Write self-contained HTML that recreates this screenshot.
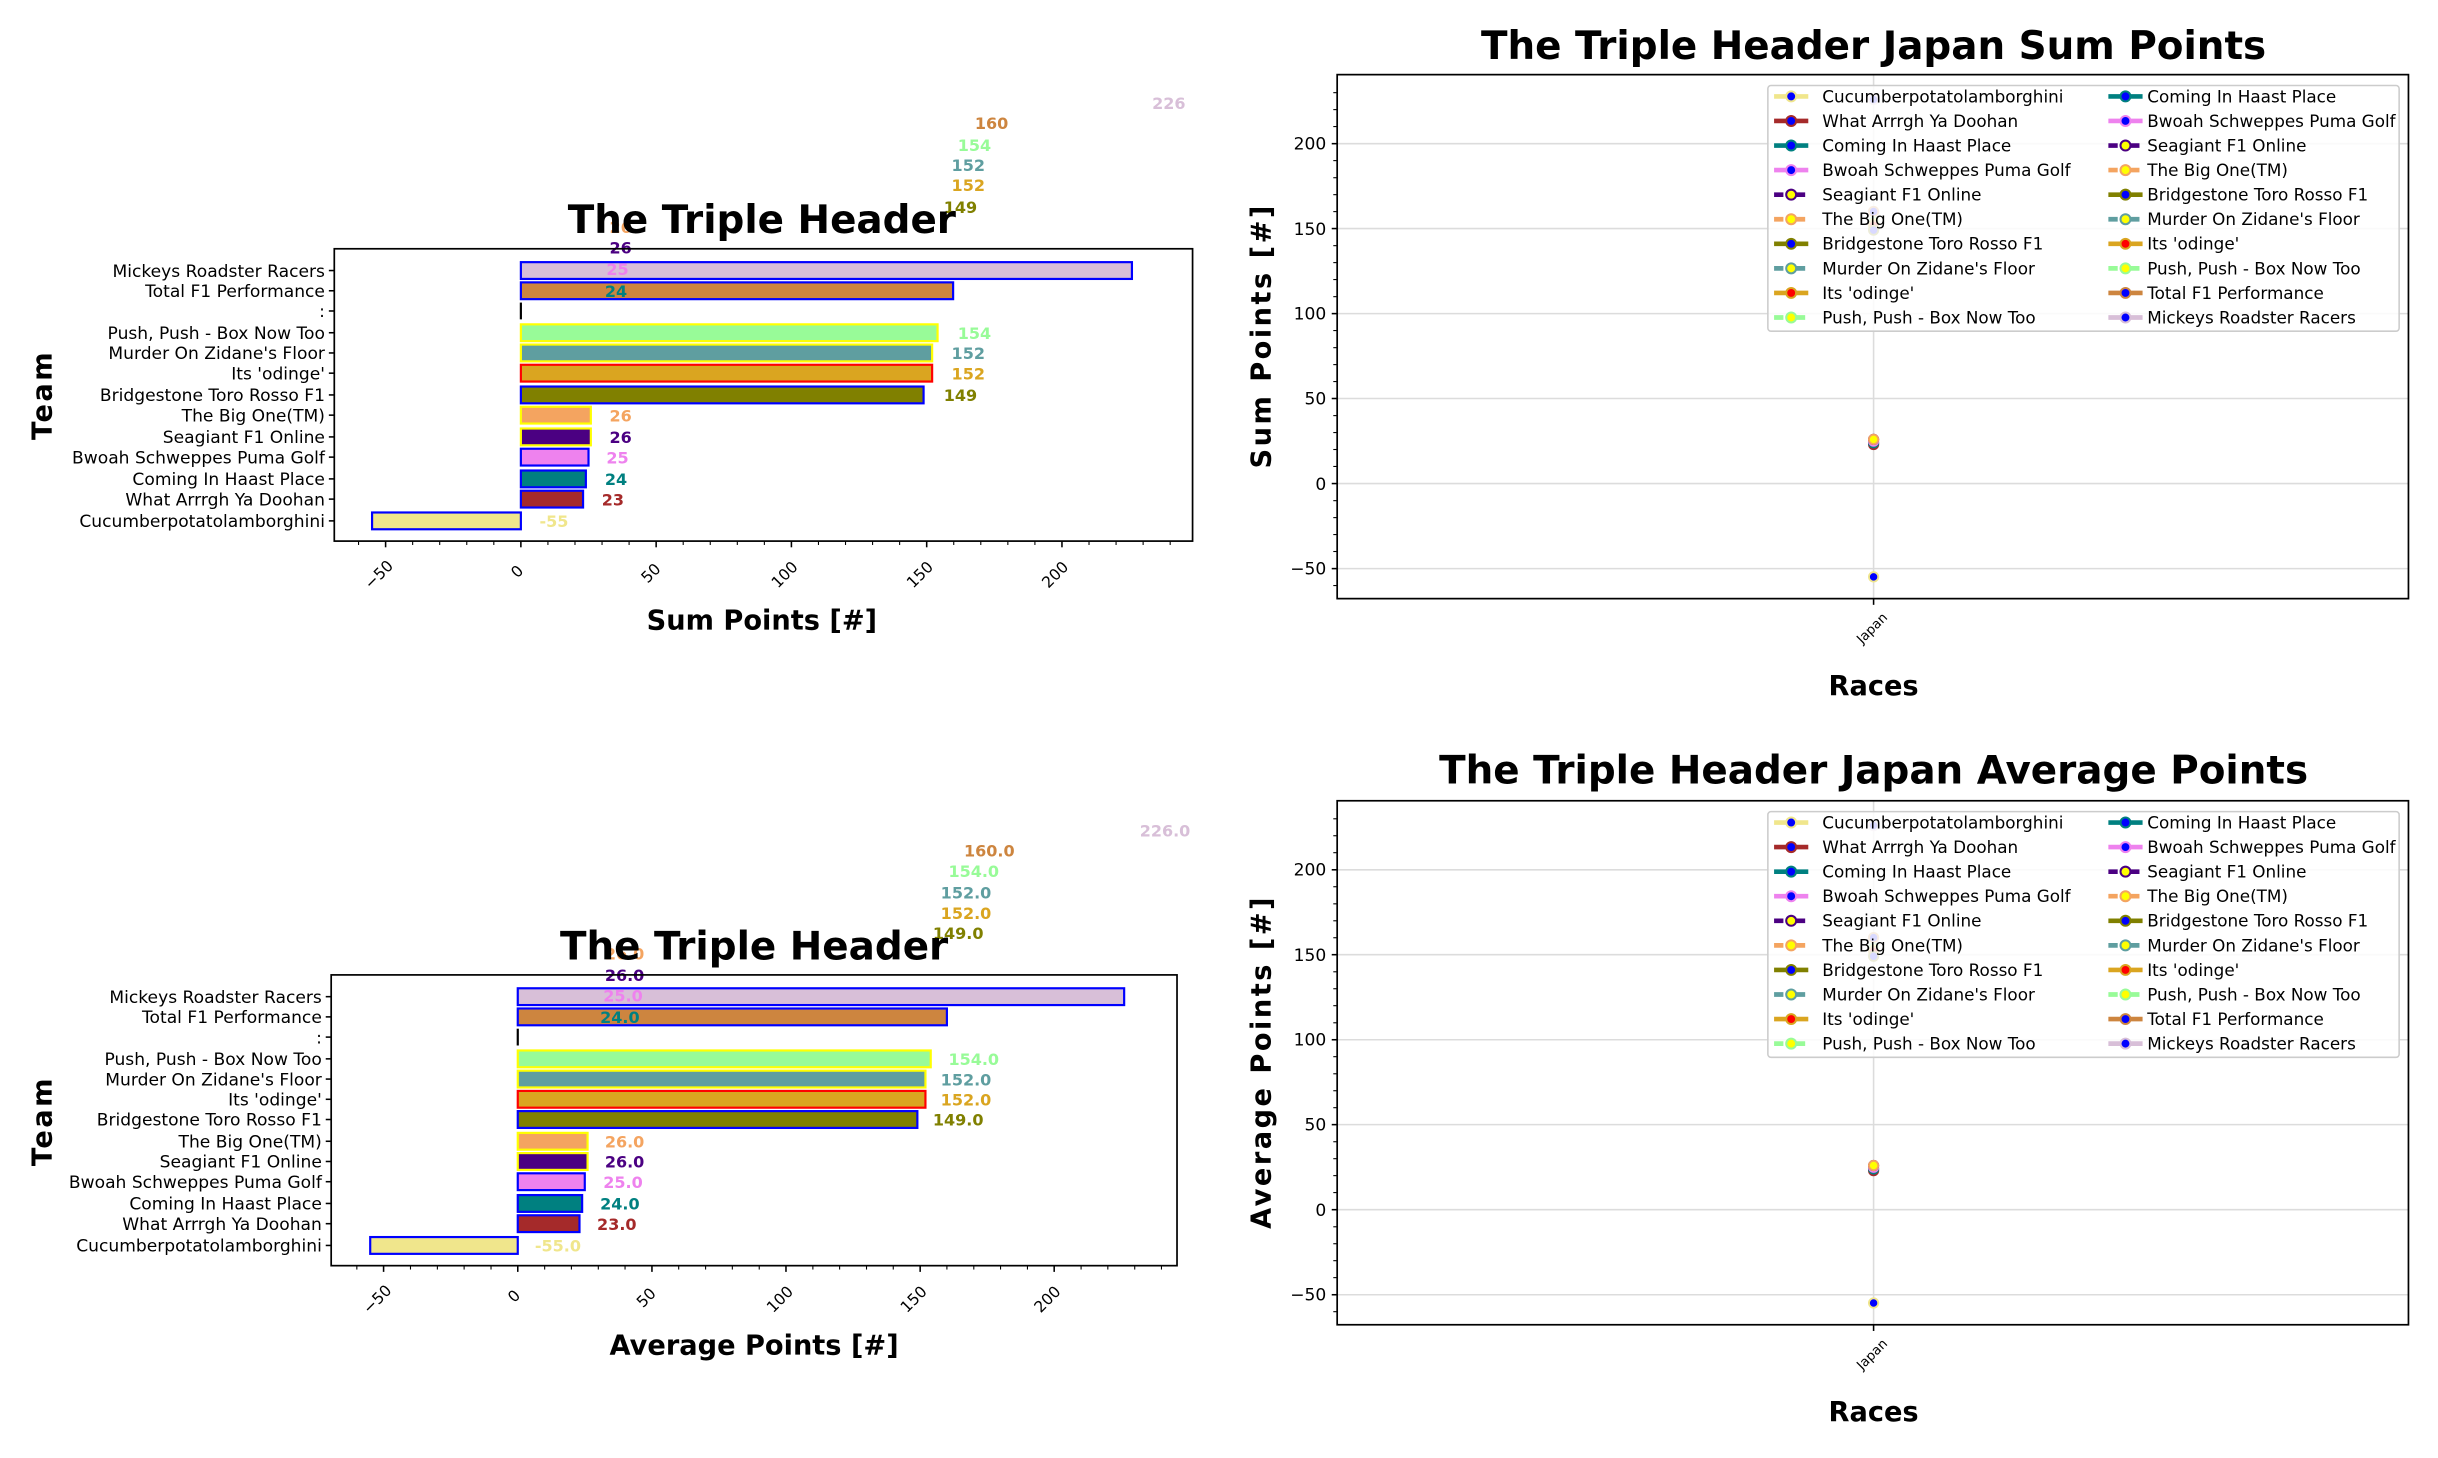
<!DOCTYPE html>
<html><head><meta charset="utf-8"><style>
html,body{margin:0;padding:0;background:#fff}
svg{display:block}
text{font-family:"DejaVu Sans","Liberation Sans",sans-serif}
.t{font-size:11px;fill:#000}
.v{font-size:10.3px;font-weight:bold}
.ti{font-size:25px;font-weight:bold;text-anchor:middle}
.al{font-size:17.5px;font-weight:bold;text-anchor:middle}
.yl{font-size:17.5px;font-weight:bold;text-anchor:middle;letter-spacing:1.6px}
.lg{font-size:10.8px}
.xt{font-size:10px;text-anchor:middle}
</style></head><body>
<svg width="2438" height="1458" viewBox="0 0 1568 937.7" preserveAspectRatio="none" xmlns="http://www.w3.org/2000/svg">
<rect width="1568" height="938" fill="#fff"/>

<!-- ================= TOP LEFT ================= -->
<g>
<text class="v" x="741" y="70" fill="#d8bfd8">226</text>
<text class="v" x="627" y="83" fill="#cd853f">160</text>
<text class="v" x="616" y="97" fill="#98fb98">154</text>
<text class="v" x="612" y="110" fill="#5f9ea0">152</text>
<text class="v" x="612" y="123" fill="#daa520">152</text>
<text class="v" x="607" y="137" fill="#808000">149</text>
<text class="v" x="392" y="150" fill="#f4a460">26</text>
<text class="v" x="392" y="163" fill="#4b0082">26</text>
<text class="ti" x="490" y="150">The Triple Header</text>
<g stroke-width="1.4">
<rect x="335" y="168.6" width="393" height="10.8" fill="#d8bfd8" stroke="#0000ff"/>
<rect x="335" y="181.6" width="278" height="10.8" fill="#cd853f" stroke="#0000ff"/>
<line x1="335" y1="194.6" x2="335" y2="205.4" stroke="#000"/>
<rect x="335" y="208.6" width="268" height="10.8" fill="#98fb98" stroke="#ffff00"/>
<rect x="335" y="221.6" width="264.5" height="10.8" fill="#5f9ea0" stroke="#ffff00"/>
<rect x="335" y="234.6" width="264.5" height="10.8" fill="#daa520" stroke="#ff0000"/>
<rect x="335" y="248.6" width="259" height="10.8" fill="#808000" stroke="#0000ff"/>
<rect x="335" y="261.6" width="45" height="10.8" fill="#f4a460" stroke="#ffff00"/>
<rect x="335" y="275.6" width="45" height="10.8" fill="#4b0082" stroke="#ffff00"/>
<rect x="335" y="288.6" width="43.5" height="10.8" fill="#ee82ee" stroke="#0000ff"/>
<rect x="335" y="302.6" width="41.8" height="10.8" fill="#008080" stroke="#0000ff"/>
<rect x="335" y="315.6" width="40" height="10.8" fill="#a52a2a" stroke="#0000ff"/>
<rect x="239.3" y="329.6" width="95.7" height="10.8" fill="#f0e68c" stroke="#0000ff"/>
</g>
<text class="v" x="390" y="177" fill="#ee82ee">25</text>
<text class="v" x="389" y="191" fill="#008080">24</text>
<text class="v" x="616" y="218" fill="#98fb98">154</text>
<text class="v" x="612" y="231" fill="#5f9ea0">152</text>
<text class="v" x="612" y="244" fill="#daa520">152</text>
<text class="v" x="607" y="258" fill="#808000">149</text>
<text class="v" x="392" y="271" fill="#f4a460">26</text>
<text class="v" x="392" y="285" fill="#4b0082">26</text>
<text class="v" x="390" y="298" fill="#ee82ee">25</text>
<text class="v" x="389" y="312" fill="#008080">24</text>
<text class="v" x="387" y="325" fill="#a52a2a">23</text>
<text class="v" x="347" y="339" fill="#f0e68c">-55</text>
<rect x="215" y="160" width="552" height="188" fill="none" stroke="#000" stroke-width="1.1"/>
<g stroke="#000" stroke-width="1">
<line x1="211.5" y1="174" x2="215" y2="174"/><line x1="211.5" y1="187" x2="215" y2="187"/><line x1="211.5" y1="200" x2="215" y2="200"/><line x1="211.5" y1="214" x2="215" y2="214"/><line x1="211.5" y1="227" x2="215" y2="227"/><line x1="211.5" y1="240" x2="215" y2="240"/><line x1="211.5" y1="254" x2="215" y2="254"/><line x1="211.5" y1="267" x2="215" y2="267"/><line x1="211.5" y1="281" x2="215" y2="281"/><line x1="211.5" y1="294" x2="215" y2="294"/><line x1="211.5" y1="308" x2="215" y2="308"/><line x1="211.5" y1="321" x2="215" y2="321"/><line x1="211.5" y1="335" x2="215" y2="335"/>
<line x1="248" y1="348" x2="248" y2="352"/><line x1="335" y1="348" x2="335" y2="352"/><line x1="422" y1="348" x2="422" y2="352"/><line x1="509" y1="348" x2="509" y2="352"/><line x1="596" y1="348" x2="596" y2="352"/><line x1="683" y1="348" x2="683" y2="352"/>
</g>
<g stroke="#000" stroke-width="0.7">
<line x1="230.6" y1="348" x2="230.6" y2="350.5"/><line x1="265.4" y1="348" x2="265.4" y2="350.5"/><line x1="282.8" y1="348" x2="282.8" y2="350.5"/><line x1="300.2" y1="348" x2="300.2" y2="350.5"/><line x1="317.6" y1="348" x2="317.6" y2="350.5"/><line x1="352.4" y1="348" x2="352.4" y2="350.5"/><line x1="369.8" y1="348" x2="369.8" y2="350.5"/><line x1="387.2" y1="348" x2="387.2" y2="350.5"/><line x1="404.6" y1="348" x2="404.6" y2="350.5"/><line x1="439.4" y1="348" x2="439.4" y2="350.5"/><line x1="456.8" y1="348" x2="456.8" y2="350.5"/><line x1="474.2" y1="348" x2="474.2" y2="350.5"/><line x1="491.6" y1="348" x2="491.6" y2="350.5"/><line x1="526.4" y1="348" x2="526.4" y2="350.5"/><line x1="543.8" y1="348" x2="543.8" y2="350.5"/><line x1="561.2" y1="348" x2="561.2" y2="350.5"/><line x1="578.6" y1="348" x2="578.6" y2="350.5"/><line x1="613.4" y1="348" x2="613.4" y2="350.5"/><line x1="630.8" y1="348" x2="630.8" y2="350.5"/><line x1="648.2" y1="348" x2="648.2" y2="350.5"/><line x1="665.6" y1="348" x2="665.6" y2="350.5"/><line x1="700.4" y1="348" x2="700.4" y2="350.5"/><line x1="717.8" y1="348" x2="717.8" y2="350.5"/><line x1="735.2" y1="348" x2="735.2" y2="350.5"/><line x1="752.6" y1="348" x2="752.6" y2="350.5"/>
</g>
<g text-anchor="end">
<text class="t" x="209" y="178">Mickeys Roadster Racers</text>
<text class="t" x="209" y="191">Total F1 Performance</text>
<text class="t" x="209" y="204">:</text>
<text class="t" x="209" y="218">Push, Push - Box Now Too</text>
<text class="t" x="209" y="231">Murder On Zidane's Floor</text>
<text class="t" x="209" y="244">Its 'odinge'</text>
<text class="t" x="209" y="258">Bridgestone Toro Rosso F1</text>
<text class="t" x="209" y="271">The Big One(TM)</text>
<text class="t" x="209" y="285">Seagiant F1 Online</text>
<text class="t" x="209" y="298">Bwoah Schweppes Puma Golf</text>
<text class="t" x="209" y="312">Coming In Haast Place</text>
<text class="t" x="209" y="325">What Arrrgh Ya Doohan</text>
<text class="t" x="209" y="339">Cucumberpotatolamborghini</text>
</g>
<text class="xt" transform="translate(246,372) rotate(-45)">−50</text>
<text class="xt" transform="translate(335,370) rotate(-45)">0</text>
<text class="xt" transform="translate(421,371) rotate(-45)">50</text>
<text class="xt" transform="translate(507,372) rotate(-45)">100</text>
<text class="xt" transform="translate(594,372) rotate(-45)">150</text>
<text class="xt" transform="translate(681,372) rotate(-45)">200</text>
<text class="al" x="490" y="405">Sum Points [#]</text>
<text class="yl" transform="translate(33,254) rotate(-90)">Team</text>
</g>

<!-- ================= BOTTOM LEFT ================= -->
<g>
<text class="v" x="733" y="538" fill="#d8bfd8">226.0</text>
<text class="v" x="620" y="551" fill="#cd853f">160.0</text>
<text class="v" x="610" y="564" fill="#98fb98">154.0</text>
<text class="v" x="605" y="578" fill="#5f9ea0">152.0</text>
<text class="v" x="605" y="591" fill="#daa520">152.0</text>
<text class="v" x="600" y="604" fill="#808000">149.0</text>
<text class="v" x="389" y="617" fill="#f4a460">26.0</text>
<text class="v" x="389" y="631" fill="#4b0082">26.0</text>
<text class="ti" x="485" y="617">The Triple Header</text>
<g stroke-width="1.4">
<rect x="333" y="635.6" width="390" height="10.8" fill="#d8bfd8" stroke="#0000ff"/>
<rect x="333" y="648.6" width="276" height="10.8" fill="#cd853f" stroke="#0000ff"/>
<line x1="333" y1="661.6" x2="333" y2="672.4" stroke="#000"/>
<rect x="333" y="675.6" width="265.6" height="10.8" fill="#98fb98" stroke="#ffff00"/>
<rect x="333" y="688.6" width="262.2" height="10.8" fill="#5f9ea0" stroke="#ffff00"/>
<rect x="333" y="701.6" width="262.2" height="10.8" fill="#daa520" stroke="#ff0000"/>
<rect x="333" y="714.6" width="257" height="10.8" fill="#808000" stroke="#0000ff"/>
<rect x="333" y="728.6" width="44.9" height="10.8" fill="#f4a460" stroke="#ffff00"/>
<rect x="333" y="741.6" width="44.9" height="10.8" fill="#4b0082" stroke="#ffff00"/>
<rect x="333" y="754.6" width="43.1" height="10.8" fill="#ee82ee" stroke="#0000ff"/>
<rect x="333" y="768.6" width="41.4" height="10.8" fill="#008080" stroke="#0000ff"/>
<rect x="333" y="781.6" width="39.7" height="10.8" fill="#a52a2a" stroke="#0000ff"/>
<rect x="238.1" y="795.6" width="94.9" height="10.8" fill="#f0e68c" stroke="#0000ff"/>
</g>
<text class="v" x="388" y="644" fill="#ee82ee">25.0</text>
<text class="v" x="386" y="658" fill="#008080">24.0</text>
<text class="v" x="610" y="685" fill="#98fb98">154.0</text>
<text class="v" x="605" y="698" fill="#5f9ea0">152.0</text>
<text class="v" x="605" y="711" fill="#daa520">152.0</text>
<text class="v" x="600" y="724" fill="#808000">149.0</text>
<text class="v" x="389" y="738" fill="#f4a460">26.0</text>
<text class="v" x="389" y="751" fill="#4b0082">26.0</text>
<text class="v" x="388" y="764" fill="#ee82ee">25.0</text>
<text class="v" x="386" y="778" fill="#008080">24.0</text>
<text class="v" x="384" y="791" fill="#a52a2a">23.0</text>
<text class="v" x="344" y="805" fill="#f0e68c">-55.0</text>
<rect x="213" y="627" width="544" height="187" fill="none" stroke="#000" stroke-width="1.1"/>
<g stroke="#000" stroke-width="1">
<line x1="209.5" y1="641" x2="213" y2="641"/><line x1="209.5" y1="654" x2="213" y2="654"/><line x1="209.5" y1="667" x2="213" y2="667"/><line x1="209.5" y1="681" x2="213" y2="681"/><line x1="209.5" y1="694" x2="213" y2="694"/><line x1="209.5" y1="707" x2="213" y2="707"/><line x1="209.5" y1="720" x2="213" y2="720"/><line x1="209.5" y1="734" x2="213" y2="734"/><line x1="209.5" y1="747" x2="213" y2="747"/><line x1="209.5" y1="760" x2="213" y2="760"/><line x1="209.5" y1="774" x2="213" y2="774"/><line x1="209.5" y1="787" x2="213" y2="787"/><line x1="209.5" y1="801" x2="213" y2="801"/>
<line x1="246.7" y1="814" x2="246.7" y2="818"/><line x1="333" y1="814" x2="333" y2="818"/><line x1="419.3" y1="814" x2="419.3" y2="818"/><line x1="505.5" y1="814" x2="505.5" y2="818"/><line x1="591.8" y1="814" x2="591.8" y2="818"/><line x1="678" y1="814" x2="678" y2="818"/>
</g>
<g stroke="#000" stroke-width="0.7">
<line x1="229.5" y1="814" x2="229.5" y2="816.5"/><line x1="264" y1="814" x2="264" y2="816.5"/><line x1="281.3" y1="814" x2="281.3" y2="816.5"/><line x1="298.5" y1="814" x2="298.5" y2="816.5"/><line x1="315.8" y1="814" x2="315.8" y2="816.5"/><line x1="350.3" y1="814" x2="350.3" y2="816.5"/><line x1="367.5" y1="814" x2="367.5" y2="816.5"/><line x1="384.8" y1="814" x2="384.8" y2="816.5"/><line x1="402" y1="814" x2="402" y2="816.5"/><line x1="436.5" y1="814" x2="436.5" y2="816.5"/><line x1="453.8" y1="814" x2="453.8" y2="816.5"/><line x1="471" y1="814" x2="471" y2="816.5"/><line x1="488.3" y1="814" x2="488.3" y2="816.5"/><line x1="522.8" y1="814" x2="522.8" y2="816.5"/><line x1="540" y1="814" x2="540" y2="816.5"/><line x1="557.3" y1="814" x2="557.3" y2="816.5"/><line x1="574.5" y1="814" x2="574.5" y2="816.5"/><line x1="609" y1="814" x2="609" y2="816.5"/><line x1="626.3" y1="814" x2="626.3" y2="816.5"/><line x1="643.5" y1="814" x2="643.5" y2="816.5"/><line x1="660.8" y1="814" x2="660.8" y2="816.5"/><line x1="695.3" y1="814" x2="695.3" y2="816.5"/><line x1="712.5" y1="814" x2="712.5" y2="816.5"/><line x1="729.8" y1="814" x2="729.8" y2="816.5"/><line x1="747" y1="814" x2="747" y2="816.5"/>
</g>
<g text-anchor="end">
<text class="t" x="207" y="645">Mickeys Roadster Racers</text>
<text class="t" x="207" y="658">Total F1 Performance</text>
<text class="t" x="207" y="671">:</text>
<text class="t" x="207" y="685">Push, Push - Box Now Too</text>
<text class="t" x="207" y="698">Murder On Zidane's Floor</text>
<text class="t" x="207" y="711">Its 'odinge'</text>
<text class="t" x="207" y="724">Bridgestone Toro Rosso F1</text>
<text class="t" x="207" y="738">The Big One(TM)</text>
<text class="t" x="207" y="751">Seagiant F1 Online</text>
<text class="t" x="207" y="764">Bwoah Schweppes Puma Golf</text>
<text class="t" x="207" y="778">Coming In Haast Place</text>
<text class="t" x="207" y="791">What Arrrgh Ya Doohan</text>
<text class="t" x="207" y="805">Cucumberpotatolamborghini</text>
</g>
<text class="xt" transform="translate(245,838) rotate(-45)">−50</text>
<text class="xt" transform="translate(333,836) rotate(-45)">0</text>
<text class="xt" transform="translate(418,837) rotate(-45)">50</text>
<text class="xt" transform="translate(504,838) rotate(-45)">100</text>
<text class="xt" transform="translate(590,838) rotate(-45)">150</text>
<text class="xt" transform="translate(676,838) rotate(-45)">200</text>
<text class="al" x="485" y="871">Average Points [#]</text>
<text class="yl" transform="translate(33,721) rotate(-90)">Team</text>
</g>

<!-- ================= TOP RIGHT ================= -->
<g>
<text class="ti" x="1205" y="38">The Triple Header Japan Sum Points</text>
<g stroke="#dcdcdc" stroke-width="1">
<line x1="860" y1="92.4" x2="1549" y2="92.4"/><line x1="860" y1="147" x2="1549" y2="147"/><line x1="860" y1="201.7" x2="1549" y2="201.7"/><line x1="860" y1="256.3" x2="1549" y2="256.3"/><line x1="860" y1="311" x2="1549" y2="311"/><line x1="860" y1="365.7" x2="1549" y2="365.7"/><line x1="1205" y1="48" x2="1205" y2="385"/>
</g>
<g stroke-width="1.2">
<circle cx="1205" cy="64" r="3" fill="#0000ff" stroke="#d8bfd8"/>
<circle cx="1205" cy="136" r="3" fill="#0000ff" stroke="#cd853f"/>
<circle cx="1205" cy="142.7" r="3" fill="#ffff00" stroke="#98fb98"/>
<circle cx="1205" cy="144.9" r="3" fill="#ffff00" stroke="#5f9ea0"/>
<circle cx="1205" cy="144.9" r="3" fill="#ff0000" stroke="#daa520"/>
<circle cx="1205" cy="148" r="3" fill="#0000ff" stroke="#808000"/>
<circle cx="1205" cy="285.9" r="3" fill="#0000ff" stroke="#a52a2a"/>
<circle cx="1205" cy="284.8" r="3" fill="#0000ff" stroke="#008080"/>
<circle cx="1205" cy="283.7" r="3" fill="#0000ff" stroke="#ee82ee"/>
<circle cx="1205" cy="282.6" r="3" fill="#ffff00" stroke="#4b0082"/>
<circle cx="1205" cy="282.6" r="3" fill="#ffff00" stroke="#f4a460"/>
<circle cx="1205" cy="371" r="3" fill="#0000ff" stroke="#f0e68c"/>
</g>
<rect x="860" y="48" width="689" height="337" fill="none" stroke="#000" stroke-width="1.1"/>
<g stroke="#000" stroke-width="1">
<line x1="856.5" y1="92.4" x2="860" y2="92.4"/><line x1="856.5" y1="147" x2="860" y2="147"/><line x1="856.5" y1="201.7" x2="860" y2="201.7"/><line x1="856.5" y1="256.3" x2="860" y2="256.3"/><line x1="856.5" y1="311" x2="860" y2="311"/><line x1="856.5" y1="365.7" x2="860" y2="365.7"/><line x1="1205" y1="385" x2="1205" y2="389"/>
</g>
<g stroke="#000" stroke-width="0.7">
<line x1="857.5" y1="59.6" x2="860" y2="59.6"/><line x1="857.5" y1="70.5" x2="860" y2="70.5"/><line x1="857.5" y1="81.4" x2="860" y2="81.4"/><line x1="857.5" y1="103.3" x2="860" y2="103.3"/><line x1="857.5" y1="114.3" x2="860" y2="114.3"/><line x1="857.5" y1="125.2" x2="860" y2="125.2"/><line x1="857.5" y1="136.1" x2="860" y2="136.1"/><line x1="857.5" y1="158" x2="860" y2="158"/><line x1="857.5" y1="168.9" x2="860" y2="168.9"/><line x1="857.5" y1="179.8" x2="860" y2="179.8"/><line x1="857.5" y1="190.8" x2="860" y2="190.8"/><line x1="857.5" y1="212.6" x2="860" y2="212.6"/><line x1="857.5" y1="223.6" x2="860" y2="223.6"/><line x1="857.5" y1="234.5" x2="860" y2="234.5"/><line x1="857.5" y1="245.4" x2="860" y2="245.4"/><line x1="857.5" y1="267.3" x2="860" y2="267.3"/><line x1="857.5" y1="278.2" x2="860" y2="278.2"/><line x1="857.5" y1="289.1" x2="860" y2="289.1"/><line x1="857.5" y1="300" x2="860" y2="300"/><line x1="857.5" y1="322" x2="860" y2="322"/><line x1="857.5" y1="332.9" x2="860" y2="332.9"/><line x1="857.5" y1="343.8" x2="860" y2="343.8"/><line x1="857.5" y1="354.7" x2="860" y2="354.7"/><line x1="857.5" y1="376.6" x2="860" y2="376.6"/>
</g>
<g text-anchor="end">
<text class="t" x="853" y="96">200</text><text class="t" x="853" y="151">150</text><text class="t" x="853" y="205.5">100</text><text class="t" x="853" y="260">50</text><text class="t" x="853" y="315">0</text><text class="t" x="853" y="369.5">−50</text>
</g>
<text style="font-size:8.5px" text-anchor="middle" transform="translate(1206,406) rotate(-45)">Japan</text>
<text class="al" x="1205" y="447">Races</text>
<text class="yl" transform="translate(817,216) rotate(-90)">Sum Points [#]</text>
<rect x="1137" y="55" width="406" height="158" rx="2" fill="#fff" fill-opacity="0.85" stroke="#cccccc" stroke-width="1"/>
<g stroke-width="3">
<line x1="1141" y1="62" x2="1163" y2="62" stroke="#f0e68c"/>
<line x1="1141" y1="77.8" x2="1163" y2="77.8" stroke="#a52a2a"/>
<line x1="1141" y1="93.6" x2="1163" y2="93.6" stroke="#008080"/>
<line x1="1141" y1="109.4" x2="1163" y2="109.4" stroke="#ee82ee"/>
<line x1="1141" y1="125.2" x2="1163" y2="125.2" stroke="#4b0082" stroke-dasharray="6,3,2,3"/>
<line x1="1141" y1="141" x2="1163" y2="141" stroke="#f4a460" stroke-dasharray="6,3,2,3"/>
<line x1="1141" y1="156.8" x2="1163" y2="156.8" stroke="#808000"/>
<line x1="1141" y1="172.6" x2="1163" y2="172.6" stroke="#5f9ea0" stroke-dasharray="6,3,2,3"/>
<line x1="1141" y1="188.4" x2="1163" y2="188.4" stroke="#daa520"/>
<line x1="1141" y1="204.2" x2="1163" y2="204.2" stroke="#98fb98" stroke-dasharray="6,3,2,3"/>
<line x1="1356" y1="62" x2="1378" y2="62" stroke="#008080"/>
<line x1="1356" y1="77.8" x2="1378" y2="77.8" stroke="#ee82ee"/>
<line x1="1356" y1="93.6" x2="1378" y2="93.6" stroke="#4b0082" stroke-dasharray="6,3,2,3"/>
<line x1="1356" y1="109.4" x2="1378" y2="109.4" stroke="#f4a460" stroke-dasharray="6,3,2,3"/>
<line x1="1356" y1="125.2" x2="1378" y2="125.2" stroke="#808000"/>
<line x1="1356" y1="141" x2="1378" y2="141" stroke="#5f9ea0" stroke-dasharray="6,3,2,3"/>
<line x1="1356" y1="156.8" x2="1378" y2="156.8" stroke="#daa520"/>
<line x1="1356" y1="172.6" x2="1378" y2="172.6" stroke="#98fb98" stroke-dasharray="6,3,2,3"/>
<line x1="1356" y1="188.4" x2="1378" y2="188.4" stroke="#cd853f"/>
<line x1="1356" y1="204.2" x2="1378" y2="204.2" stroke="#d8bfd8"/>
</g>
<g stroke-width="1.3">
<circle cx="1152" cy="62" r="3.2" fill="#0000ff" stroke="#f0e68c"/>
<circle cx="1152" cy="77.8" r="3.2" fill="#0000ff" stroke="#a52a2a"/>
<circle cx="1152" cy="93.6" r="3.2" fill="#0000ff" stroke="#008080"/>
<circle cx="1152" cy="109.4" r="3.2" fill="#0000ff" stroke="#ee82ee"/>
<circle cx="1152" cy="125.2" r="3.2" fill="#ffff00" stroke="#4b0082"/>
<circle cx="1152" cy="141" r="3.2" fill="#ffff00" stroke="#f4a460"/>
<circle cx="1152" cy="156.8" r="3.2" fill="#0000ff" stroke="#808000"/>
<circle cx="1152" cy="172.6" r="3.2" fill="#ffff00" stroke="#5f9ea0"/>
<circle cx="1152" cy="188.4" r="3.2" fill="#ff0000" stroke="#daa520"/>
<circle cx="1152" cy="204.2" r="3.2" fill="#ffff00" stroke="#98fb98"/>
<circle cx="1367" cy="62" r="3.2" fill="#0000ff" stroke="#008080"/>
<circle cx="1367" cy="77.8" r="3.2" fill="#0000ff" stroke="#ee82ee"/>
<circle cx="1367" cy="93.6" r="3.2" fill="#ffff00" stroke="#4b0082"/>
<circle cx="1367" cy="109.4" r="3.2" fill="#ffff00" stroke="#f4a460"/>
<circle cx="1367" cy="125.2" r="3.2" fill="#0000ff" stroke="#808000"/>
<circle cx="1367" cy="141" r="3.2" fill="#ffff00" stroke="#5f9ea0"/>
<circle cx="1367" cy="156.8" r="3.2" fill="#ff0000" stroke="#daa520"/>
<circle cx="1367" cy="172.6" r="3.2" fill="#ffff00" stroke="#98fb98"/>
<circle cx="1367" cy="188.4" r="3.2" fill="#0000ff" stroke="#cd853f"/>
<circle cx="1367" cy="204.2" r="3.2" fill="#0000ff" stroke="#d8bfd8"/>
</g>
<g>
<text class="lg" x="1172" y="65.8">Cucumberpotatolamborghini</text>
<text class="lg" x="1172" y="81.6">What Arrrgh Ya Doohan</text>
<text class="lg" x="1172" y="97.4">Coming In Haast Place</text>
<text class="lg" x="1172" y="113.2">Bwoah Schweppes Puma Golf</text>
<text class="lg" x="1172" y="129">Seagiant F1 Online</text>
<text class="lg" x="1172" y="144.8">The Big One(TM)</text>
<text class="lg" x="1172" y="160.6">Bridgestone Toro Rosso F1</text>
<text class="lg" x="1172" y="176.4">Murder On Zidane's Floor</text>
<text class="lg" x="1172" y="192.2">Its 'odinge'</text>
<text class="lg" x="1172" y="208">Push, Push - Box Now Too</text>
<text class="lg" x="1381" y="65.8">Coming In Haast Place</text>
<text class="lg" x="1381" y="81.6">Bwoah Schweppes Puma Golf</text>
<text class="lg" x="1381" y="97.4">Seagiant F1 Online</text>
<text class="lg" x="1381" y="113.2">The Big One(TM)</text>
<text class="lg" x="1381" y="129">Bridgestone Toro Rosso F1</text>
<text class="lg" x="1381" y="144.8">Murder On Zidane's Floor</text>
<text class="lg" x="1381" y="160.6">Its 'odinge'</text>
<text class="lg" x="1381" y="176.4">Push, Push - Box Now Too</text>
<text class="lg" x="1381" y="192.2">Total F1 Performance</text>
<text class="lg" x="1381" y="208">Mickeys Roadster Racers</text>
</g>
</g>

<!-- ================= BOTTOM RIGHT ================= -->
<g transform="translate(0,467)">
<text class="ti" x="1205" y="37">The Triple Header Japan Average Points</text>
<g stroke="#dcdcdc" stroke-width="1">
<line x1="860" y1="92.4" x2="1549" y2="92.4"/><line x1="860" y1="147" x2="1549" y2="147"/><line x1="860" y1="201.7" x2="1549" y2="201.7"/><line x1="860" y1="256.3" x2="1549" y2="256.3"/><line x1="860" y1="311" x2="1549" y2="311"/><line x1="860" y1="365.7" x2="1549" y2="365.7"/><line x1="1205" y1="48" x2="1205" y2="385"/>
</g>
<g stroke-width="1.2">
<circle cx="1205" cy="64" r="3" fill="#0000ff" stroke="#d8bfd8"/>
<circle cx="1205" cy="136" r="3" fill="#0000ff" stroke="#cd853f"/>
<circle cx="1205" cy="142.7" r="3" fill="#ffff00" stroke="#98fb98"/>
<circle cx="1205" cy="144.9" r="3" fill="#ffff00" stroke="#5f9ea0"/>
<circle cx="1205" cy="144.9" r="3" fill="#ff0000" stroke="#daa520"/>
<circle cx="1205" cy="148" r="3" fill="#0000ff" stroke="#808000"/>
<circle cx="1205" cy="285.9" r="3" fill="#0000ff" stroke="#a52a2a"/>
<circle cx="1205" cy="284.8" r="3" fill="#0000ff" stroke="#008080"/>
<circle cx="1205" cy="283.7" r="3" fill="#0000ff" stroke="#ee82ee"/>
<circle cx="1205" cy="282.6" r="3" fill="#ffff00" stroke="#4b0082"/>
<circle cx="1205" cy="282.6" r="3" fill="#ffff00" stroke="#f4a460"/>
<circle cx="1205" cy="371" r="3" fill="#0000ff" stroke="#f0e68c"/>
</g>
<rect x="860" y="48" width="689" height="337" fill="none" stroke="#000" stroke-width="1.1"/>
<g stroke="#000" stroke-width="1">
<line x1="856.5" y1="92.4" x2="860" y2="92.4"/><line x1="856.5" y1="147" x2="860" y2="147"/><line x1="856.5" y1="201.7" x2="860" y2="201.7"/><line x1="856.5" y1="256.3" x2="860" y2="256.3"/><line x1="856.5" y1="311" x2="860" y2="311"/><line x1="856.5" y1="365.7" x2="860" y2="365.7"/><line x1="1205" y1="385" x2="1205" y2="389"/>
</g>
<g stroke="#000" stroke-width="0.7">
<line x1="857.5" y1="59.6" x2="860" y2="59.6"/><line x1="857.5" y1="70.5" x2="860" y2="70.5"/><line x1="857.5" y1="81.4" x2="860" y2="81.4"/><line x1="857.5" y1="103.3" x2="860" y2="103.3"/><line x1="857.5" y1="114.3" x2="860" y2="114.3"/><line x1="857.5" y1="125.2" x2="860" y2="125.2"/><line x1="857.5" y1="136.1" x2="860" y2="136.1"/><line x1="857.5" y1="158" x2="860" y2="158"/><line x1="857.5" y1="168.9" x2="860" y2="168.9"/><line x1="857.5" y1="179.8" x2="860" y2="179.8"/><line x1="857.5" y1="190.8" x2="860" y2="190.8"/><line x1="857.5" y1="212.6" x2="860" y2="212.6"/><line x1="857.5" y1="223.6" x2="860" y2="223.6"/><line x1="857.5" y1="234.5" x2="860" y2="234.5"/><line x1="857.5" y1="245.4" x2="860" y2="245.4"/><line x1="857.5" y1="267.3" x2="860" y2="267.3"/><line x1="857.5" y1="278.2" x2="860" y2="278.2"/><line x1="857.5" y1="289.1" x2="860" y2="289.1"/><line x1="857.5" y1="300" x2="860" y2="300"/><line x1="857.5" y1="322" x2="860" y2="322"/><line x1="857.5" y1="332.9" x2="860" y2="332.9"/><line x1="857.5" y1="343.8" x2="860" y2="343.8"/><line x1="857.5" y1="354.7" x2="860" y2="354.7"/><line x1="857.5" y1="376.6" x2="860" y2="376.6"/>
</g>
<g text-anchor="end">
<text class="t" x="853" y="96">200</text><text class="t" x="853" y="151">150</text><text class="t" x="853" y="205.5">100</text><text class="t" x="853" y="260">50</text><text class="t" x="853" y="315">0</text><text class="t" x="853" y="369.5">−50</text>
</g>
<text style="font-size:8.5px" text-anchor="middle" transform="translate(1206,406) rotate(-45)">Japan</text>
<text class="al" x="1205" y="447">Races</text>
<text class="yl" transform="translate(817,216) rotate(-90)">Average Points [#]</text>
<rect x="1137" y="55" width="406" height="158" rx="2" fill="#fff" fill-opacity="0.85" stroke="#cccccc" stroke-width="1"/>
<g stroke-width="3">
<line x1="1141" y1="62" x2="1163" y2="62" stroke="#f0e68c"/>
<line x1="1141" y1="77.8" x2="1163" y2="77.8" stroke="#a52a2a"/>
<line x1="1141" y1="93.6" x2="1163" y2="93.6" stroke="#008080"/>
<line x1="1141" y1="109.4" x2="1163" y2="109.4" stroke="#ee82ee"/>
<line x1="1141" y1="125.2" x2="1163" y2="125.2" stroke="#4b0082" stroke-dasharray="6,3,2,3"/>
<line x1="1141" y1="141" x2="1163" y2="141" stroke="#f4a460" stroke-dasharray="6,3,2,3"/>
<line x1="1141" y1="156.8" x2="1163" y2="156.8" stroke="#808000"/>
<line x1="1141" y1="172.6" x2="1163" y2="172.6" stroke="#5f9ea0" stroke-dasharray="6,3,2,3"/>
<line x1="1141" y1="188.4" x2="1163" y2="188.4" stroke="#daa520"/>
<line x1="1141" y1="204.2" x2="1163" y2="204.2" stroke="#98fb98" stroke-dasharray="6,3,2,3"/>
<line x1="1356" y1="62" x2="1378" y2="62" stroke="#008080"/>
<line x1="1356" y1="77.8" x2="1378" y2="77.8" stroke="#ee82ee"/>
<line x1="1356" y1="93.6" x2="1378" y2="93.6" stroke="#4b0082" stroke-dasharray="6,3,2,3"/>
<line x1="1356" y1="109.4" x2="1378" y2="109.4" stroke="#f4a460" stroke-dasharray="6,3,2,3"/>
<line x1="1356" y1="125.2" x2="1378" y2="125.2" stroke="#808000"/>
<line x1="1356" y1="141" x2="1378" y2="141" stroke="#5f9ea0" stroke-dasharray="6,3,2,3"/>
<line x1="1356" y1="156.8" x2="1378" y2="156.8" stroke="#daa520"/>
<line x1="1356" y1="172.6" x2="1378" y2="172.6" stroke="#98fb98" stroke-dasharray="6,3,2,3"/>
<line x1="1356" y1="188.4" x2="1378" y2="188.4" stroke="#cd853f"/>
<line x1="1356" y1="204.2" x2="1378" y2="204.2" stroke="#d8bfd8"/>
</g>
<g stroke-width="1.3">
<circle cx="1152" cy="62" r="3.2" fill="#0000ff" stroke="#f0e68c"/>
<circle cx="1152" cy="77.8" r="3.2" fill="#0000ff" stroke="#a52a2a"/>
<circle cx="1152" cy="93.6" r="3.2" fill="#0000ff" stroke="#008080"/>
<circle cx="1152" cy="109.4" r="3.2" fill="#0000ff" stroke="#ee82ee"/>
<circle cx="1152" cy="125.2" r="3.2" fill="#ffff00" stroke="#4b0082"/>
<circle cx="1152" cy="141" r="3.2" fill="#ffff00" stroke="#f4a460"/>
<circle cx="1152" cy="156.8" r="3.2" fill="#0000ff" stroke="#808000"/>
<circle cx="1152" cy="172.6" r="3.2" fill="#ffff00" stroke="#5f9ea0"/>
<circle cx="1152" cy="188.4" r="3.2" fill="#ff0000" stroke="#daa520"/>
<circle cx="1152" cy="204.2" r="3.2" fill="#ffff00" stroke="#98fb98"/>
<circle cx="1367" cy="62" r="3.2" fill="#0000ff" stroke="#008080"/>
<circle cx="1367" cy="77.8" r="3.2" fill="#0000ff" stroke="#ee82ee"/>
<circle cx="1367" cy="93.6" r="3.2" fill="#ffff00" stroke="#4b0082"/>
<circle cx="1367" cy="109.4" r="3.2" fill="#ffff00" stroke="#f4a460"/>
<circle cx="1367" cy="125.2" r="3.2" fill="#0000ff" stroke="#808000"/>
<circle cx="1367" cy="141" r="3.2" fill="#ffff00" stroke="#5f9ea0"/>
<circle cx="1367" cy="156.8" r="3.2" fill="#ff0000" stroke="#daa520"/>
<circle cx="1367" cy="172.6" r="3.2" fill="#ffff00" stroke="#98fb98"/>
<circle cx="1367" cy="188.4" r="3.2" fill="#0000ff" stroke="#cd853f"/>
<circle cx="1367" cy="204.2" r="3.2" fill="#0000ff" stroke="#d8bfd8"/>
</g>
<g>
<text class="lg" x="1172" y="65.8">Cucumberpotatolamborghini</text>
<text class="lg" x="1172" y="81.6">What Arrrgh Ya Doohan</text>
<text class="lg" x="1172" y="97.4">Coming In Haast Place</text>
<text class="lg" x="1172" y="113.2">Bwoah Schweppes Puma Golf</text>
<text class="lg" x="1172" y="129">Seagiant F1 Online</text>
<text class="lg" x="1172" y="144.8">The Big One(TM)</text>
<text class="lg" x="1172" y="160.6">Bridgestone Toro Rosso F1</text>
<text class="lg" x="1172" y="176.4">Murder On Zidane's Floor</text>
<text class="lg" x="1172" y="192.2">Its 'odinge'</text>
<text class="lg" x="1172" y="208">Push, Push - Box Now Too</text>
<text class="lg" x="1381" y="65.8">Coming In Haast Place</text>
<text class="lg" x="1381" y="81.6">Bwoah Schweppes Puma Golf</text>
<text class="lg" x="1381" y="97.4">Seagiant F1 Online</text>
<text class="lg" x="1381" y="113.2">The Big One(TM)</text>
<text class="lg" x="1381" y="129">Bridgestone Toro Rosso F1</text>
<text class="lg" x="1381" y="144.8">Murder On Zidane's Floor</text>
<text class="lg" x="1381" y="160.6">Its 'odinge'</text>
<text class="lg" x="1381" y="176.4">Push, Push - Box Now Too</text>
<text class="lg" x="1381" y="192.2">Total F1 Performance</text>
<text class="lg" x="1381" y="208">Mickeys Roadster Racers</text>
</g>
</g>
</svg>
</body></html>
